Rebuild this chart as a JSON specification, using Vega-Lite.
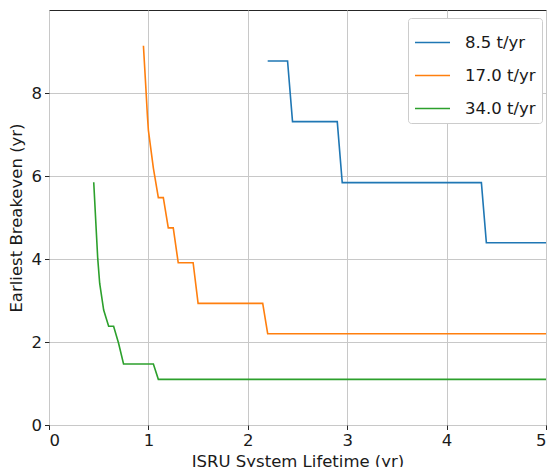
{
  "$schema": "https://vega.github.io/schema/vega-lite/v6.json",
  "autosize": "none",
  "width": 497,
  "height": 415,
  "padding": {"left": 49, "top": 10, "right": 6, "bottom": 42},
  "background": "white",
  "config": {
    "font": "DejaVu Sans",
    "view": {"stroke": "#262626", "strokeWidth": 1},
    "axis": {
      "domain": false,
      "grid": true,
      "gridColor": "#c8c8c8",
      "gridWidth": 1,
      "tickColor": "#262626",
      "tickSize": 4.5,
      "labelFont": "DejaVu Sans",
      "labelFontSize": 16.5,
      "labelColor": "#1a1a1a",
      "titleFont": "DejaVu Sans",
      "titleFontSize": 16.5,
      "titleFontWeight": "normal",
      "titleColor": "#1a1a1a",
      "labelPadding": 3
    }
  },
  "data": {
    "values": [
      {"series": "\u00a08.5 t/yr", "x": 2.20, "y": 8.77},
      {"series": "\u00a08.5 t/yr", "x": 2.40, "y": 8.77},
      {"series": "\u00a08.5 t/yr", "x": 2.45, "y": 7.31},
      {"series": "\u00a08.5 t/yr", "x": 2.90, "y": 7.31},
      {"series": "\u00a08.5 t/yr", "x": 2.95, "y": 5.84},
      {"series": "\u00a08.5 t/yr", "x": 4.35, "y": 5.84},
      {"series": "\u00a08.5 t/yr", "x": 4.40, "y": 4.39},
      {"series": "\u00a08.5 t/yr", "x": 5.00, "y": 4.39},
      {"series": "17.0 t/yr", "x": 0.95, "y": 9.14},
      {"series": "17.0 t/yr", "x": 0.975, "y": 8.1},
      {"series": "17.0 t/yr", "x": 0.99, "y": 7.45},
      {"series": "17.0 t/yr", "x": 1.00, "y": 7.1},
      {"series": "17.0 t/yr", "x": 1.05, "y": 6.19},
      {"series": "17.0 t/yr", "x": 1.10, "y": 5.48},
      {"series": "17.0 t/yr", "x": 1.15, "y": 5.48},
      {"series": "17.0 t/yr", "x": 1.20, "y": 4.75},
      {"series": "17.0 t/yr", "x": 1.25, "y": 4.75},
      {"series": "17.0 t/yr", "x": 1.30, "y": 3.91},
      {"series": "17.0 t/yr", "x": 1.45, "y": 3.91},
      {"series": "17.0 t/yr", "x": 1.50, "y": 2.93},
      {"series": "17.0 t/yr", "x": 2.15, "y": 2.93},
      {"series": "17.0 t/yr", "x": 2.20, "y": 2.20},
      {"series": "17.0 t/yr", "x": 5.00, "y": 2.20},
      {"series": "34.0 t/yr", "x": 0.45, "y": 5.85},
      {"series": "34.0 t/yr", "x": 0.475, "y": 4.70},
      {"series": "34.0 t/yr", "x": 0.49, "y": 4.02},
      {"series": "34.0 t/yr", "x": 0.51, "y": 3.41},
      {"series": "34.0 t/yr", "x": 0.55, "y": 2.77},
      {"series": "34.0 t/yr", "x": 0.60, "y": 2.38},
      {"series": "34.0 t/yr", "x": 0.65, "y": 2.38},
      {"series": "34.0 t/yr", "x": 0.70, "y": 1.97},
      {"series": "34.0 t/yr", "x": 0.75, "y": 1.47},
      {"series": "34.0 t/yr", "x": 1.05, "y": 1.47},
      {"series": "34.0 t/yr", "x": 1.10, "y": 1.10},
      {"series": "34.0 t/yr", "x": 5.00, "y": 1.10}
    ]
  },
  "mark": {"type": "line", "strokeWidth": 1.6, "clip": true},
  "encoding": {
    "x": {
      "field": "x",
      "type": "quantitative",
      "title": "ISRU System Lifetime (yr)",
      "scale": {"domain": [0, 5], "nice": false, "zero": false},
      "axis": {"values": [0, 1, 2, 3, 4, 5], "titlePadding": 4}
    },
    "y": {
      "field": "y",
      "type": "quantitative",
      "title": "Earliest Breakeven (yr)",
      "scale": {"domain": [0, 10.0], "nice": false},
      "axis": {"values": [0, 2, 4, 6, 8], "titlePadding": 7}
    },
    "color": {
      "field": "series",
      "type": "nominal",
      "scale": {
        "domain": ["\u00a08.5 t/yr", "17.0 t/yr", "34.0 t/yr"],
        "range": ["#1f77b4", "#ff7f0e", "#2ca02c"]
      },
      "legend": {
        "title": null,
        "orient": "none",
        "legendX": 359,
        "legendY": 8,
        "symbolType": "stroke",
        "symbolSize": 1225,
        "symbolStrokeWidth": 1.6,
        "labelFontSize": 16.5,
        "labelFont": "DejaVu Sans",
        "labelColor": "#1a1a1a",
        "labelOffset": 14,
        "rowPadding": 6,
        "padding": 6,
        "fillColor": "white",
        "strokeColor": "#cccccc",
        "cornerRadius": 3
      }
    }
  }
}
